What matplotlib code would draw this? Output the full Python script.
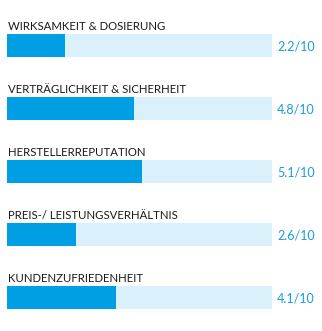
import matplotlib
matplotlib.use("Agg")
import matplotlib.pyplot as plt

# --- Daten ---
categories = [
    "WIRKSAMKEIT & DOSIERUNG",
    "VERTRÄGLICHKEIT & SICHERHEIT",
    "HERSTELLERREPUTATION",
    "PREIS-/ LEISTUNGSVERHÄLTNIS",
    "KUNDENZUFRIEDENHEIT",
]
scores = [2.2, 4.8, 5.1, 2.6, 4.1]
max_score = 10

FILL = "#009FE3"
TRACK = "#DAF0FA"
VALC = "#1A9BE0"
TEXTC = "#1A1A1A"

W, H = 322, 331
fig = plt.figure(figsize=(W / 100, H / 100), dpi=100, facecolor="white")
# Achse deckt genau die Balkenspur ab (x 7..272 px)
ax = fig.add_axes([7 / W, 0, 265 / W, 1])
ax.set_xlim(0, max_score)
ax.set_ylim(H, 0)
ax.axis("off")

step, bar_h, first = 63, 23, 45.5
ys = [first + step * i for i in range(len(categories))]

ax.barh(ys, [max_score] * len(ys), height=bar_h, color=TRACK, left=0, zorder=1)
ax.barh(ys, scores, height=bar_h, color=FILL, left=0, zorder=2)

for y, cat, s in zip(ys, categories, scores):
    ax.text(0.05, y - bar_h / 2 - 4, cat, color=TEXTC, fontsize=8.2,
            family="Lato", ha="left", va="baseline")
    ax.text(1.162, y + 1, f"{s}/{max_score}", color=VALC, fontsize=9,
            family="Lato", ha="right", va="center",
            transform=ax.get_yaxis_transform(), clip_on=False)

fig.savefig("out.png", dpi=100, facecolor="white")
